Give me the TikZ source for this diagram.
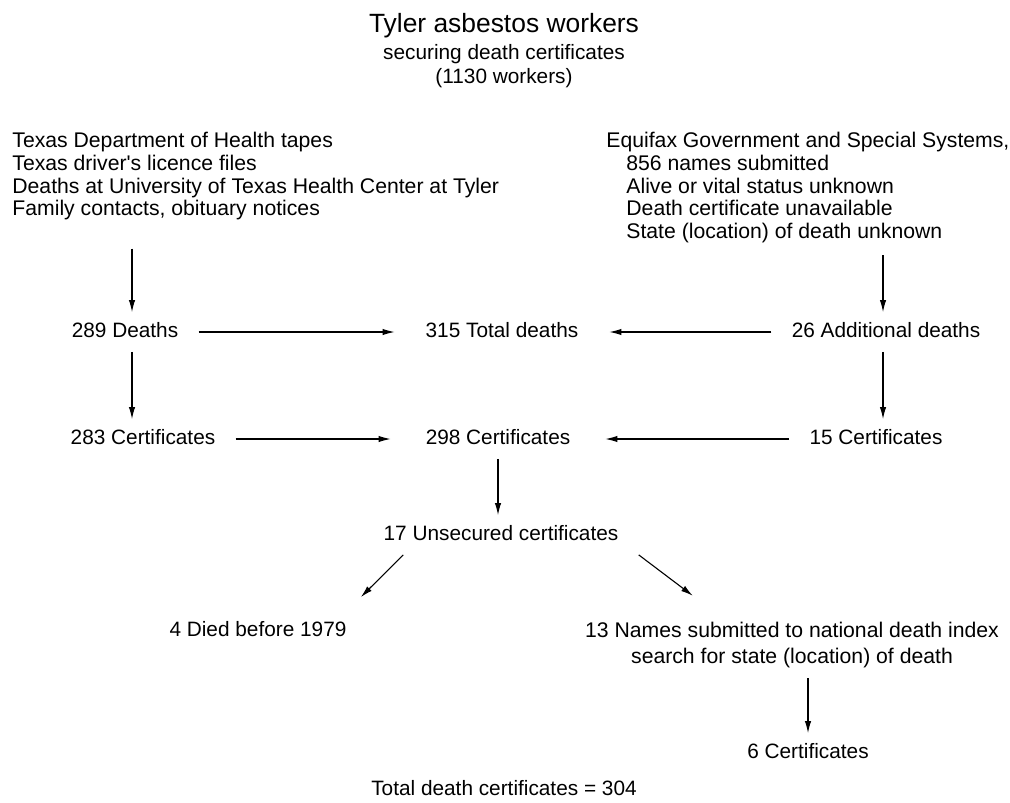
\documentclass[tikz,border=0pt]{standalone}
\usepackage{fontspec}
\setmainfont{Liberation Sans}
\usetikzlibrary{arrows.meta}
\definecolor{flowLineColor}{RGB}{0,0,0}
\tikzset{
	flowText/.style = {
		font=\fontsize{10.4}{12}\selectfont, inner xsep=10pt, inner ysep=5pt,
		text height=7.5pt, text depth=2pt
	},
	midText/.style = {
		flowText, inner xsep=0pt, minimum width=107pt
	},
	sourceList/.style = {
		font=\fontsize{10.6}{11.35}\selectfont, align=left, inner sep=0pt, anchor=north west
	},
	flowArrow/.style = {
		line width=0.55pt, draw=flowLineColor, -{Latex[length=6pt,width=3.2pt]}
	}
}

\begin{document}
\begin{tikzpicture}[x=0.5pt, y=-0.5pt]
	\useasboundingbox (0,0) rectangle (1010,802);

	% heading
	\node [font=\fontsize{13.2}{16}\selectfont] (title) at (504,26) {Tyler asbestos workers};
	\node [font=\fontsize{10.4}{12}\selectfont, align=center] (subtitle) at (504,66) {securing death certificates\\(1130 workers)};

	% sources
	\node [sourceList] (srcL) at (12,132) {Texas Department of Health tapes\\Texas driver\textquotesingle s licence files\\Deaths at University of Texas Health Center at Tyler\\Family contacts, obituary notices};
	\node [sourceList] (srcR) at (606,132) {Equifax Government and Special Systems,\\\hspace*{10pt}856 names submitted\\\hspace*{10pt}Alive or vital status unknown\\\hspace*{10pt}Death certificate unavailable\\\hspace*{10pt}State (location) of death unknown};

	\coordinate (colL) at (132,0);
	\coordinate (colR) at (883,0);

	\node [flowText] (deathsL) at (125,332) {289 Deaths};
	\node [midText] (total) at (502,332) {315 Total deaths};
	\node [flowText] (deathsR) at (886,332) {26 Additional deaths};
	\node [flowText] (certL) at (143,439) {283 Certificates};
	\node [midText] (certT) at (498,439) {298 Certificates};
	\node [flowText] (certR) at (876,439) {15 Certificates};
	\node [flowText] (unsec) at (501,535) {17 Unsecured certificates};
	\node [flowText] (died) at (258,631) {4 Died before 1979};
	\node [font=\fontsize{10.6}{13}\selectfont, align=center, inner xsep=10pt, inner ysep=5pt] (ndi) at (792,645) {13 Names submitted to national death index\\search for state (location) of death};
	\node [flowText] (certN) at (808,753) {6 Certificates};
	\node [flowText] (totalCert) at (504,790) {Total death certificates = 304};

	\draw [flowArrow, shorten <=14pt] (srcL.south -| colL) -- (deathsL.north -| colL);
	\draw [flowArrow] (deathsL.south -| colL) -- (certL.north -| colL);
	\draw [flowArrow, shorten <=6pt] (srcR.south -| colR) -- (deathsR.north -| colR);
	\draw [flowArrow] (deathsR.south -| colR) -- (certR.north -| colR);
	\draw [flowArrow] (deathsL) -- (total);
	\draw [flowArrow] (deathsR) -- (total);
	\draw [flowArrow] (certL) -- (certT);
	\draw [flowArrow] (certR) -- (certT);
	\draw [flowArrow] (certT.south) -- (certT.south |- unsec.north);
	\draw [flowArrow] ([xshift=20pt]unsec.south west) -- ([xshift=-3pt,yshift=7pt]died.north east);
	\draw [flowArrow] (unsec.south east) -- ([xshift=64pt,yshift=8pt]ndi.north west);
	\draw [flowArrow] (ndi.south -| certN) -- (certN.north);
\end{tikzpicture}
\end{document}
